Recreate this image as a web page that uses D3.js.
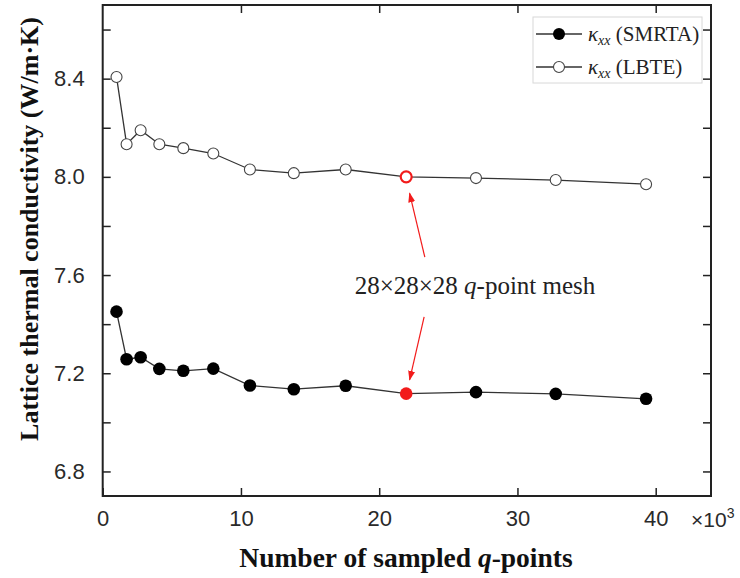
<!DOCTYPE html>
<html>
<head>
<meta charset="utf-8">
<script src="https://cdn.jsdelivr.net/npm/d3@7"></script>
<style>
  html, body { margin: 0; padding: 0; background: #fff; }
  svg { display: block; }
</style>
</head>
<body>
<script>
// Number of sampled q-points (x10^3) for the n×n×n meshes
const qPoints = [1.0, 1.728, 2.744, 4.096, 5.832, 8.0, 10.648, 13.824, 17.576, 21.952, 27.0, 32.768, 39.304];
// Lattice thermal conductivity κxx (W/m·K)
const kappaSMRTA = [7.451, 7.257, 7.265, 7.218, 7.210, 7.219, 7.150, 7.135, 7.149, 7.117, 7.123, 7.116, 7.096];
const kappaLBTE  = [8.407, 8.133, 8.190, 8.133, 8.117, 8.095, 8.030, 8.015, 8.030, 8.000, 7.995, 7.987, 7.970];
// index of the 28×28×28 mesh, highlighted in red
const highlightIndex = 9;
const xTicks = [0, 10, 20, 30, 40];
const yMajorTicks = [6.8, 7.2, 7.6, 8.0, 8.4];
const yMinorTicks = [7.0, 7.4, 7.8, 8.2, 8.6];

const W = 740, H = 578;
const plotLeft = 102.7, plotRight = 711, plotTop = 5, plotBottom = 496;

const svg = d3.select("body").append("svg").attr("width", W).attr("height", H);

const x = d3.scaleLinear().domain([0, 44]).range([plotLeft, plotRight]);
const y = d3.scaleLinear().domain([6.7, 8.7]).range([plotBottom, plotTop]);

const tickFont = "'Liberation Sans', Arial, sans-serif";
const serif = "'Liberation Serif', 'Times New Roman', serif";
const frameColor = "#222";

// Axes with inward ticks on all four sides
const tickLen = 8;
svg.append("g").attr("transform", `translate(0,${plotBottom})`)
  .call(d3.axisBottom(x).tickValues(xTicks).tickSize(-tickLen).tickPadding(14).tickFormat(d3.format("d")))
  .call(g => g.select(".domain").remove())
  .call(g => g.selectAll("line").attr("stroke", frameColor).attr("stroke-width", 1.5))
  .call(g => g.selectAll("text").attr("font-family", tickFont).attr("font-size", 22).attr("fill", "#2a2a2a").attr("dy", "0.71em"));

svg.append("g").attr("transform", `translate(0,${plotTop})`)
  .call(d3.axisTop(x).tickValues(xTicks.filter(d => d > 0)).tickSize(-tickLen).tickFormat(""))
  .call(g => g.select(".domain").remove())
  .call(g => g.selectAll("line").attr("stroke", frameColor).attr("stroke-width", 1.5));

svg.append("g").attr("transform", `translate(${plotLeft},0)`)
  .call(d3.axisLeft(y).tickValues(yMajorTicks).tickSize(-tickLen).tickPadding(18).tickFormat(d3.format(".1f")))
  .call(g => g.select(".domain").remove())
  .call(g => g.selectAll("line").attr("stroke", frameColor).attr("stroke-width", 1.5))
  .call(g => g.selectAll("text").attr("font-family", tickFont).attr("font-size", 22).attr("fill", "#2a2a2a"));

svg.append("g").attr("transform", `translate(${plotLeft},0)`)
  .call(d3.axisLeft(y).tickValues(yMinorTicks).tickSize(-tickLen).tickFormat(""))
  .call(g => g.select(".domain").remove())
  .call(g => g.selectAll("line").attr("stroke", frameColor).attr("stroke-width", 1.5));

svg.append("g").attr("transform", `translate(${plotRight},0)`)
  .call(d3.axisRight(y).tickValues(yMajorTicks.concat(yMinorTicks)).tickSize(-tickLen).tickFormat(""))
  .call(g => g.select(".domain").remove())
  .call(g => g.selectAll("line").attr("stroke", frameColor).attr("stroke-width", 1.5));

// Frame
svg.append("rect")
  .attr("x", plotLeft).attr("y", plotTop)
  .attr("width", plotRight - plotLeft).attr("height", plotBottom - plotTop)
  .attr("fill", "none").attr("stroke", frameColor).attr("stroke-width", 2);

// ×10^3 multiplier
const mult = svg.append("text")
  .attr("x", 691).attr("y", 527)
  .attr("font-family", tickFont).attr("font-size", 21).attr("fill", "#2a2a2a");
mult.append("tspan").text("×10");
mult.append("tspan").attr("font-size", 14).attr("dy", -9).text("3");

// Axis titles
const xt = svg.append("text")
  .attr("x", 406).attr("y", 567)
  .attr("text-anchor", "middle")
  .attr("font-family", serif).attr("font-weight", "bold").attr("font-size", 27.5).attr("fill", "#111");
xt.append("tspan").text("Number of sampled ");
xt.append("tspan").attr("font-style", "italic").text("q");
xt.append("tspan").text("-points");

svg.append("text")
  .attr("transform", `translate(38,229) rotate(-90)`)
  .attr("text-anchor", "middle")
  .attr("font-family", serif).attr("font-weight", "bold").attr("font-size", 26).attr("fill", "#111")
  .text("Lattice thermal conductivity (W/m·K)");

// Series
const lineColor = "#333";
const line = d3.line().x(d => x(d[0])).y(d => y(d[1]));
const smrta = qPoints.map((q, i) => [q, kappaSMRTA[i]]);
const lbte = qPoints.map((q, i) => [q, kappaLBTE[i]]);

svg.append("path").datum(lbte).attr("d", line)
  .attr("fill", "none").attr("stroke", lineColor).attr("stroke-width", 1.3);
svg.append("path").datum(smrta).attr("d", line)
  .attr("fill", "none").attr("stroke", lineColor).attr("stroke-width", 1.3);

const red = "#f21b1b";
svg.append("g").selectAll("circle").data(lbte).join("circle")
  .attr("cx", d => x(d[0])).attr("cy", d => y(d[1])).attr("r", 5.5)
  .attr("fill", "#fff")
  .attr("stroke", (d, i) => i === highlightIndex ? red : "#444")
  .attr("stroke-width", (d, i) => i === highlightIndex ? 2.2 : 1.1);

svg.append("g").selectAll("circle").data(smrta).join("circle")
  .attr("cx", d => x(d[0])).attr("cy", d => y(d[1])).attr("r", 6.3)
  .attr("fill", (d, i) => i === highlightIndex ? red : "#000");

// Annotation for the 28×28×28 mesh
const ann = svg.append("text")
  .attr("x", 475).attr("y", 294)
  .attr("text-anchor", "middle")
  .attr("font-family", serif).attr("font-size", 25).attr("fill", "#222");
ann.append("tspan").text("28×28×28 ");
ann.append("tspan").attr("font-style", "italic").text("q");
ann.append("tspan").text("-point mesh");

svg.append("defs").append("marker")
  .attr("id", "arrowhead").attr("viewBox", "0 0 10 10")
  .attr("refX", 9).attr("refY", 5)
  .attr("markerWidth", 10).attr("markerHeight", 10)
  .attr("markerUnits", "userSpaceOnUse")
  .attr("orient", "auto")
  .append("path").attr("d", "M0,1.5 L10,5 L0,8.5 Z").attr("fill", red);

const arrows = [
  { from: [23.3, 7.673], to: [22.2, 7.933] },
  { from: [23.25, 7.43], to: [22.2, 7.173] }
];
svg.append("g").selectAll("line").data(arrows).join("line")
  .attr("x1", d => x(d.from[0])).attr("y1", d => y(d.from[1]))
  .attr("x2", d => x(d.to[0])).attr("y2", d => y(d.to[1]))
  .attr("stroke", red).attr("stroke-width", 1.2)
  .attr("marker-end", "url(#arrowhead)");

// Legend
const lg = svg.append("g");
lg.append("rect")
  .attr("x", 533).attr("y", 17).attr("width", 169).attr("height", 66)
  .attr("fill", "#fff").attr("stroke", "#d8d8d8").attr("stroke-width", 1);

const legendItems = [
  { label: "(SMRTA)", filled: true, yy: 34 },
  { label: "(LBTE)", filled: false, yy: 67 }
];
legendItems.forEach(it => {
  lg.append("line").attr("x1", 536).attr("x2", 582).attr("y1", it.yy).attr("y2", it.yy)
    .attr("stroke", lineColor).attr("stroke-width", 1.3);
  lg.append("circle").attr("cx", 559).attr("cy", it.yy).attr("r", it.filled ? 6 : 5.5)
    .attr("fill", it.filled ? "#000" : "#fff")
    .attr("stroke", it.filled ? "none" : "#444").attr("stroke-width", 1.1);
  const t = lg.append("text").attr("x", 588).attr("y", it.yy + 7)
    .attr("font-family", serif).attr("font-size", 21).attr("fill", "#222");
  t.append("tspan").attr("font-style", "italic").text("κ");
  t.append("tspan").attr("font-style", "italic").attr("font-size", 14).attr("dy", 4).text("xx");
  t.append("tspan").attr("dy", -4).text(" " + it.label);
});
</script>
</body>
</html>
